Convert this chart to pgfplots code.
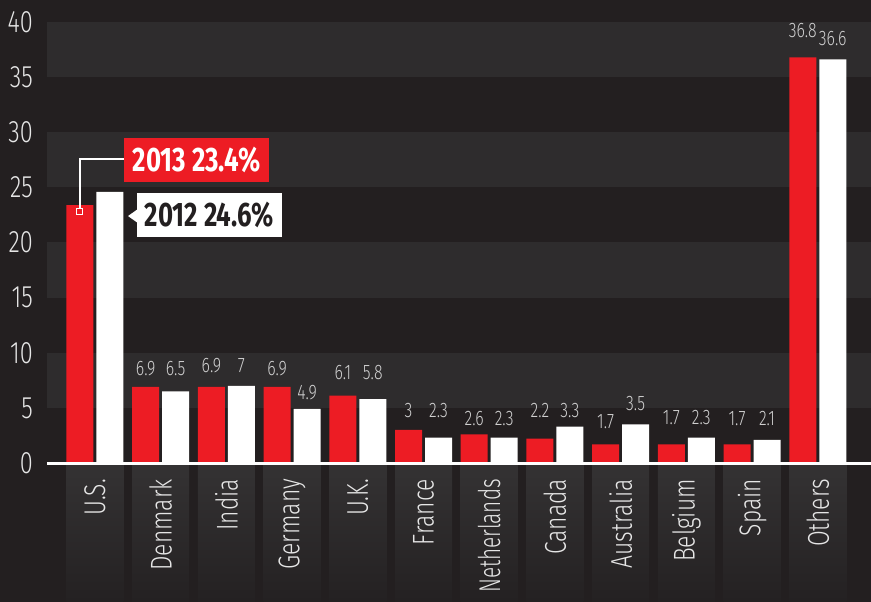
\documentclass[border=0pt]{standalone}
\usepackage{pgfplots}
\pgfplotsset{compat=1.18}
\usepackage{pgfplotstable}
\usepackage{fontspec}
\setmainfont{Fira Sans}[UprightFont=* Light, BoldFont=* Bold, FakeStretch=0.76]
\newfontfamily\narrowfont{Fira Sans}[UprightFont=* Light, FakeStretch=0.69]
\definecolor{bgc}{HTML}{231F20}
\definecolor{bandc}{HTML}{2E2C2D}
\definecolor{redc}{HTML}{ED1C24}
\definecolor{tickc}{HTML}{E6E6E6}
\definecolor{valc}{HTML}{CFCFCF}
\definecolor{boxtop}{HTML}{343233}
\definecolor{boxbot}{HTML}{242122}

\pgfplotstableread{
x red white
0 23.4 24.6
1 6.9 6.5
2 6.9 7
3 6.9 4.9
4 6.1 5.8
5 3 2.3
6 2.6 2.3
7 2.2 3.3
8 1.7 3.5
9 1.7 2.3
10 1.7 2.1
11 36.8 36.6
}\datatable

\pgfplotstableread{
x y label
0.772 8.53 6.9
1.228 8.53 6.5
1.772 8.8 6.9
2.228 8.8 7
2.772 8.53 6.9
3.228 6.35 4.9
3.772 8.25 6.1
4.228 8.25 5.8
4.772 4.8 3
5.228 4.8 2.3
5.772 4.0 2.6
6.228 4.0 2.3
6.772 4.8 2.2
7.228 4.8 3.3
7.772 3.72 1.7
8.228 5.35 3.5
8.772 4.08 1.7
9.228 4.08 2.3
9.772 4.0 1.7
10.228 4.0 2.1
10.772 39.2 36.8
11.228 38.5 36.6
}\labeltable

\begin{document}
\begin{tikzpicture}[x=1pt,y=1pt]
\fill[bgc] (0,0) rectangle (871,602);
\path[use as bounding box] (0,0) rectangle (871,602);
% horizontal bands
\foreach \lo in {5,15,25,35}{
  \fill[bandc] (47,{139+11.025*\lo}) rectangle (871,{139+11.025*(\lo+5)});
}
% category boxes
\foreach \i in {0,...,11}{
  \shade[top color=boxtop, bottom color=boxbot]
    ({47+(\i+0.73)*65.71-28.5},0) rectangle ({47+(\i+0.73)*65.71+28.5},137);
}
\begin{axis}[
  at={(47pt,139pt)}, anchor=south west,
  scale only axis, width=824pt, height=441pt,
  xmin=-0.73, xmax=11.81, ymin=0, ymax=40,
  axis line style={draw=none},
  major tick length=0pt,
  ytick={0,5,...,40},
  xtick={0,...,11},
  xticklabels={U.S.,Denmark,India,Germany,U.K.,France,{\narrowfont Netherlands},Canada,Australia,Belgium,Spain,Others},
  /pgf/number format/assume math mode=true,
  yticklabel style={font=\fontsize{31}{31}\selectfont, text=tickc, anchor=east, inner sep=0pt, xshift=-14pt},
  xticklabel style={font=\fontsize{30}{30}\selectfont, text=tickc, rotate=90, anchor=east, inner sep=0pt},
  xticklabel shift=16pt,
  clip=false,
]
\addplot[ybar, fill=redc, draw=none, bar width=27pt, bar shift=-15pt] table[x=x, y=red]{\datatable};
\addplot[ybar, fill=white, draw=none, bar width=27pt, bar shift=15pt] table[x=x, y=white]{\datatable};
\addplot[draw=none, mark=none, nodes near coords, point meta=explicit symbolic,
  every node near coord/.append style={anchor=center, inner sep=0pt, text=valc, font=\fontsize{21}{21}\selectfont}]
  table[x=x, y=y, meta=label]{\labeltable};
\draw[white, line width=2.5pt] (axis cs:-0.73,-0.05) -- (axis cs:11.81,-0.05);
% callouts
\draw[white, line width=1.3pt] (axis cs:0.442,27.57) -- (axis cs:-0.228,27.57) -- (axis cs:-0.228,22.77);
\node[draw=white, fill=redc, line width=1pt, minimum size=6pt, inner sep=0pt] at (axis cs:-0.228,22.77) {};
\node[fill=redc, text=white, font=\fontsize{34}{34}\selectfont\bfseries, minimum width=145pt, minimum height=44pt, inner sep=0pt] at (axis cs:1.545,27.48) {2013 23.4\%};
\fill[white] (axis cs:0.503,22.4) -- (axis cs:0.645,23.0) -- (axis cs:0.645,21.8) -- cycle;
\node[fill=white, text=bgc, font=\fontsize{34}{34}\selectfont\bfseries, minimum width=145pt, minimum height=44pt, inner sep=0pt] at (axis cs:1.743,22.49) {2012 24.6\%};
\end{axis}
\end{tikzpicture}
\end{document}
